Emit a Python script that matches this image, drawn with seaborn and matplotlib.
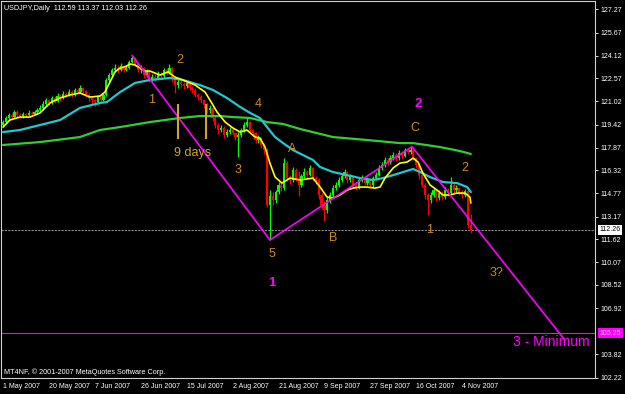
import matplotlib
matplotlib.use("Agg")
import matplotlib.pyplot as plt
import matplotlib.transforms as mtransforms
from matplotlib import font_manager
import numpy as np
import pandas as pd
import seaborn as sns

# ---------------- data ----------------
opens = [119.40, 119.60, 119.88, 120.08, 119.94, 120.28, 120.08, 120.01, 120.15, 120.08,
         120.22, 120.15, 120.28, 120.42, 120.56, 120.83, 121.10, 120.90, 121.24, 121.03,
         121.37, 121.24, 121.51, 121.44, 121.64, 121.44, 121.78, 121.64, 121.92, 121.71,
         121.44, 121.24, 121.10, 120.96, 121.30, 121.10, 121.44, 122.46, 122.80, 123.14,
         123.28, 123.14, 123.41, 123.14, 123.28, 123.69, 123.96, 123.55, 123.14, 123.28,
         122.80, 123.01, 122.46, 122.67, 122.60, 122.87, 122.73, 123.14, 122.94, 123.28,
         122.60, 122.12, 122.33, 122.19, 122.05, 122.26, 121.92, 121.78, 121.44, 121.30,
         121.10, 120.76, 120.42, 120.56, 119.88, 119.40, 119.06, 119.20, 118.72, 118.92,
         119.06, 118.86, 118.58, 118.72, 119.06, 119.40, 119.60, 119.06, 118.86, 118.38,
         118.52, 118.04, 117.70, 113.95, 114.60, 114.30, 114.84, 115.32, 115.10, 116.80,
         115.79, 115.66, 116.34, 115.79, 115.32, 115.93, 116.20, 116.00, 116.47, 115.79,
         115.66, 114.64, 113.96, 113.62, 114.30, 114.64, 115.11, 115.32, 115.66, 115.93,
         116.20, 115.66, 115.93, 115.32, 115.20, 115.66, 115.79, 115.45, 115.66, 115.32,
         115.79, 116.00, 116.47, 116.68, 117.02, 116.88, 117.15, 117.36, 117.15, 117.50,
         117.29, 117.70, 117.56, 117.70, 117.15, 116.68, 116.00, 115.32, 114.64, 114.30,
         114.64, 114.98, 114.43, 114.77, 114.50, 114.98, 114.77, 115.32, 114.98, 115.11,
         114.84, 114.64, 114.90, 112.59]
closes = [119.60, 119.88, 120.08, 119.94, 120.28, 120.08, 120.01, 120.15, 120.08, 120.22,
          120.15, 120.28, 120.42, 120.56, 120.83, 121.10, 120.90, 121.24, 121.03, 121.37,
          121.24, 121.51, 121.44, 121.64, 121.44, 121.78, 121.64, 121.92, 121.71, 121.44,
          121.24, 121.10, 120.96, 121.30, 121.10, 121.44, 122.46, 122.80, 123.14, 123.28,
          123.14, 123.41, 123.14, 123.28, 123.69, 123.96, 123.55, 123.14, 123.28, 122.80,
          123.01, 122.46, 122.67, 122.60, 122.87, 122.73, 123.14, 122.94, 123.28, 122.60,
          122.12, 122.33, 122.19, 122.05, 122.26, 121.92, 121.78, 121.44, 121.30, 121.10,
          120.76, 120.42, 120.56, 119.88, 119.40, 119.06, 119.20, 118.72, 118.92, 119.06,
          118.86, 118.58, 118.72, 119.06, 119.40, 119.60, 119.06, 118.86, 118.38, 118.52,
          118.04, 117.70, 113.95, 114.60, 114.30, 114.84, 115.32, 115.10, 116.80, 115.79,
          115.66, 116.34, 115.79, 115.32, 115.93, 116.20, 116.00, 116.47, 115.79, 115.66,
          114.64, 113.96, 113.62, 114.30, 114.64, 115.11, 115.32, 115.66, 115.93, 116.20,
          115.66, 115.93, 115.32, 115.20, 115.66, 115.79, 115.45, 115.66, 115.32, 115.79,
          116.00, 116.47, 116.68, 117.02, 116.88, 117.15, 117.36, 117.15, 117.50, 117.29,
          117.70, 117.56, 117.70, 117.15, 116.68, 116.00, 115.32, 114.64, 114.30, 114.64,
          114.98, 114.43, 114.77, 114.50, 114.98, 114.77, 115.32, 114.98, 115.11, 114.84,
          114.64, 114.90, 112.59, 112.26]
highs = [119.75, 120.00, 120.25, 120.20, 120.45, 120.40, 120.20, 120.30, 120.25, 120.40,
         120.35, 120.45, 120.55, 120.75, 121.00, 121.25, 121.20, 121.40, 121.35, 121.55,
         121.50, 121.70, 121.65, 121.85, 121.75, 121.95, 121.90, 122.10, 122.00, 121.80,
         121.55, 121.40, 121.20, 121.45, 121.40, 121.60, 122.60, 122.95, 123.30, 123.55,
         123.45, 123.60, 123.50, 123.50, 123.85, 124.13, 124.05, 123.65, 123.45, 123.35,
         123.20, 123.10, 122.85, 122.85, 123.05, 123.00, 123.30, 123.25, 123.55, 123.35,
         122.70, 122.50, 122.45, 122.35, 122.40, 122.35, 122.05, 121.90, 121.60, 121.45,
         121.20, 120.90, 120.75, 120.65, 120.00, 119.55, 119.40, 119.30, 119.10, 119.25,
         119.20, 118.95, 118.90, 119.20, 119.60, 119.85, 119.70, 119.15, 118.95, 118.70,
         118.60, 118.15, 117.85, 114.95, 114.85, 115.00, 115.50, 115.55, 117.15, 116.95,
         116.00, 116.55, 116.45, 116.30, 116.10, 116.45, 116.35, 116.65, 116.55, 115.95,
         115.80, 114.80, 114.20, 114.50, 114.85, 115.30, 115.55, 115.85, 116.15, 116.40,
         116.30, 116.10, 116.00, 115.45, 115.80, 116.00, 115.90, 115.85, 115.75, 115.95,
         116.20, 116.65, 116.90, 117.20, 117.15, 117.35, 117.55, 117.50, 117.70, 117.60,
         117.85, 117.85, 117.93, 117.80, 117.25, 116.80, 116.10, 115.45, 114.80, 114.85,
         115.15, 115.05, 114.95, 114.90, 115.15, 115.10, 115.86, 115.45, 115.30, 115.20,
         114.95, 115.05, 115.00, 113.37]
lows = [119.25, 119.50, 119.80, 119.80, 119.85, 119.95, 119.85, 119.90, 119.95, 120.00,
        120.00, 120.05, 120.15, 120.30, 120.45, 120.70, 120.75, 120.80, 120.90, 120.95,
        121.05, 121.15, 121.30, 121.35, 121.30, 121.35, 121.50, 121.55, 121.55, 121.30,
        121.05, 120.85, 120.70, 120.85, 120.95, 121.00, 121.35, 122.30, 122.70, 123.00,
        122.95, 123.05, 123.00, 123.05, 123.20, 123.60, 123.40, 123.00, 122.95, 122.60,
        122.65, 122.30, 122.35, 122.40, 122.50, 122.55, 122.60, 122.80, 122.85, 122.30,
        121.55, 121.95, 122.00, 121.85, 121.90, 121.75, 121.60, 121.30, 121.10, 120.90,
        120.55, 120.20, 120.25, 119.70, 119.20, 118.80, 118.90, 118.55, 118.60, 118.80,
        118.70, 118.40, 117.25, 118.60, 118.95, 119.25, 118.90, 118.65, 118.20, 118.20,
        117.85, 117.40, 113.80, 111.58, 113.95, 114.10, 114.70, 114.90, 115.00, 115.60,
        115.40, 115.55, 115.60, 114.60, 115.20, 115.80, 115.80, 115.90, 115.60, 115.40,
        114.40, 113.70, 112.85, 113.40, 114.10, 114.50, 114.95, 115.20, 115.50, 115.80,
        115.45, 115.50, 115.10, 114.95, 115.05, 115.55, 115.30, 115.30, 115.10, 115.20,
        115.65, 115.90, 116.35, 116.55, 116.70, 116.75, 117.00, 116.95, 117.05, 117.10,
        117.20, 117.40, 117.45, 117.00, 116.50, 115.75, 115.15, 114.40, 113.28, 114.10,
        114.50, 114.20, 114.30, 114.30, 114.40, 114.60, 114.70, 114.80, 114.85, 114.65,
        114.45, 114.50, 112.40, 112.03]

# moving averages, sampled along the bar axis
fast_bar = [0, 2.4, 5.9, 9.4, 12.9, 16.4, 19.9, 23.3, 26.8, 30.3, 33.8, 35.5, 37.3, 39.0, 40.8,
            42.5, 44.3, 46.0, 47.7, 49.5, 51.2, 54.7, 57.5, 59.9, 62.7, 66.9, 70.4, 72.1, 74.6, 77.4,
            80.1, 82.6, 85.0, 87.8, 89.5, 91.3, 93.0, 94.8, 97.2, 100.0, 103.5, 108.0, 110.5, 112.9,
            115.0, 117.4, 119.9, 122.0, 124.4, 126.8, 129.6, 131.4, 133.1, 135.9, 138.3, 140.8,
            142.9, 144.6, 146.3, 148.8, 151.2, 153.3, 155.7, 158.2, 161.0, 162.7, 163.0]
fast_val = [119.26, 119.74, 119.94, 119.94, 120.22, 120.90, 121.24, 121.44, 121.58, 121.30,
            121.37, 121.64, 122.33, 123.01, 123.28, 123.35, 123.55, 123.48, 123.28, 123.07,
            123.07, 122.80, 123.01, 122.66, 122.46, 122.12, 121.64, 121.10, 120.28, 119.60,
            119.20, 118.92, 119.06, 118.58, 118.52, 117.90, 116.81, 115.86, 115.45, 115.79,
            115.66, 115.79, 115.18, 114.50, 114.43, 114.64, 114.98, 115.11, 115.18, 115.18,
            115.11, 115.18, 115.79, 116.47, 116.81, 116.88, 117.15, 116.88, 116.13, 115.32,
            114.98, 114.64, 114.64, 114.77, 114.77, 114.50, 114.09]
mid_bar = [0, 5.9, 12.9, 19.9, 26.8, 33.8, 36.2, 40.8, 46.0, 51.2, 58.2, 62.7, 68.6, 73.2, 78.0,
           82.6, 86.1, 89.5, 92.0, 94.8, 97.6, 101.0, 105.2, 108.0, 110.5, 115.0, 119.9, 124.4,
           128.9, 132.4, 135.9, 139.4, 142.9, 145.3, 148.8, 153.3, 158.2, 161.7, 163.0]
mid_val = [118.92, 119.06, 119.40, 119.74, 120.56, 120.90, 120.96, 121.64, 122.26, 122.46,
           122.60, 122.46, 122.12, 121.78, 121.24, 120.63, 120.22, 119.88, 119.26, 118.58,
           118.17, 117.70, 117.29, 117.02, 116.54, 116.20, 115.99, 115.79, 115.66, 115.79,
           115.99, 116.20, 116.41, 116.20, 115.86, 115.52, 115.45, 115.18, 114.84]
slow_bar = [0, 12.9, 26.8, 33.8, 40.8, 51.2, 61.7, 68.6, 75.6, 80.1, 86.1, 92.0, 97.6, 103.5,
            115.0, 126.8, 138.3, 142.9, 152.3, 159.2, 163.0]
slow_val = [118.04, 118.24, 118.58, 119.06, 119.26, 119.60, 119.88, 120.01, 120.01, 119.94,
            119.88, 119.60, 119.47, 119.13, 118.58, 118.38, 118.17, 118.17, 117.90, 117.63, 117.43]

# Elliott-wave zigzag
zig_bar = [45, 93, 142.5, 195.8]
zig_price = [124.13, 111.58, 117.93, 104.77]
nine_days_bar = [61.0, 70.7]
nine_days_range = [118.47, 120.84]

xtick_bars = [0, 16, 32, 48, 64, 80, 96, 112, 128, 144, 160]
xtick_labels = ["1 May 2007", "20 May 2007", "7 Jun 2007", "26 Jun 2007", "15 Jul 2007",
                "2 Aug 2007", "21 Aug 2007", "9 Sep 2007", "27 Sep 2007", "16 Oct 2007",
                "4 Nov 2007"]
ytick_vals = [127.27, 125.67, 124.12, 122.57, 121.02, 119.42, 117.87, 116.32, 114.77,
              113.17, 111.62, 110.07, 108.52, 106.92, 103.82, 102.22]
last_price = 112.26
target_price = 105.25

# ---------------- figure ----------------
sns.set_style("dark")
plt.rcParams['font.family'] = ['Liberation Sans', 'DejaVu Sans']

# narrow font for the small MetaTrader-style axis texts
_names = {f.name for f in font_manager.fontManager.ttflist}
if 'Liberation Sans Narrow' in _names:
    small_family, small_size = ['Liberation Sans Narrow', 'DejaVu Sans'], 6.0
elif 'DejaVu Sans Condensed' in _names:
    small_family, small_size = ['DejaVu Sans Condensed', 'DejaVu Sans'], 5.35
else:
    small_family, small_size = ['Liberation Sans', 'DejaVu Sans'], 5.0

W, H = 625, 394
fig = plt.figure(figsize=(W / 100, H / 100), dpi=100, facecolor='black')
ax_left, ax_right, ax_top, ax_bot = 1, 595, 1, 377.6
ax = fig.add_axes([ax_left / W, (H - ax_bot) / H, (ax_right - ax_left) / W, (ax_bot - ax_top) / H],
                  facecolor='black')

bars = np.arange(len(closes))
o = np.array(opens); c = np.array(closes)
cols = ['#00ff00' if cc >= oo else '#ff0000' for oo, cc in zip(o, c)]
ax.vlines(bars, lows, highs, colors=cols, lw=0.9, zorder=2)
bottoms = np.minimum(o, c)
heights = np.maximum(np.abs(c - o), 0.04)
ax.bar(bars, heights, bottom=bottoms, width=0.75, color=cols, lw=0, zorder=2)

# horizontal levels
ax.axhline(last_price, color='#8a8a8a', lw=0.8, ls=(0, (2, 1)), zorder=1)
ax.axhline(target_price, color='#ff00ff', lw=0.8, zorder=1)

# moving averages
sns.lineplot(x=slow_bar, y=slow_val, ax=ax, color='#32cd32', lw=1.6, sort=False, zorder=3)
sns.lineplot(x=mid_bar, y=mid_val, ax=ax, color='#20c8d0', lw=1.6, sort=False, zorder=3)
sns.lineplot(x=fast_bar, y=fast_val, ax=ax, color='#ffff00', lw=1.2, sort=False, zorder=4)

# zigzag
sns.lineplot(x=zig_bar, y=zig_price, ax=ax, color='#ff00ff', lw=1.2, sort=False, zorder=5)
ax.vlines(nine_days_bar, nine_days_range[0], nine_days_range[1], colors='#d4a52a', lw=1.5, zorder=5)

orange = '#d08a1a'
labels_orange = [("1", 51.9, 121.10), ("2", 61.7, 123.82), ("4", 88.9, 120.83),
                 ("3", 81.9, 116.34), ("A", 100.7, 117.77), ("5", 93.7, 110.62),
                 ("B", 115.0, 111.71), ("C", 143.6, 119.19), ("2", 161.0, 116.47),
                 ("1", 148.8, 112.26), ("3?", 171.8, 109.33)]
for t, xb, yp in labels_orange:
    ax.text(xb, yp, t, color=orange, fontsize=9, ha='center', va='center', zorder=6)
ax.text(66.2, 117.49, "9 days", color='#d4a52a', fontsize=9, ha='center', va='center', zorder=6)
ax.text(144.6, 120.83, "2", color='#ff00ff', fontsize=9.5, fontweight='bold', ha='center', va='center')
ax.text(93.7, 108.65, "1", color='#ff00ff', fontsize=9.5, fontweight='bold', ha='center', va='center')
ax.text(204.3, 104.62, "3 - Minimum", color='#ff00ff', fontsize=10, ha='right', va='center')

# axes limits & ticks
ax.set_xlim((ax_left - 3) / 2.87, (ax_right - 3) / 2.87)
ax.set_ylim(102.22, 127.27 + (9.3 - ax_top) / 14.7)
ax.yaxis.tick_right()
ax.set_yticks(ytick_vals)
ax.set_yticklabels([f"{v:.2f}" for v in ytick_vals], family=small_family, fontsize=small_size)
ax.set_xticks(xtick_bars)
ax.set_xticklabels(xtick_labels, family=small_family, fontsize=small_size)
for lbl in ax.get_xticklabels():
    lbl.set_horizontalalignment('left')
ax.tick_params(axis='y', colors='white', labelcolor='white', length=2.5,
               width=0.6, pad=1.5, direction='out', right=True, left=False)
ax.tick_params(axis='x', colors='white', labelcolor='white', length=2.5,
               width=0.6, pad=1.5, direction='out')
ax.grid(False)
for s in ax.spines.values():
    s.set_color('#d0d0d0'); s.set_linewidth(0.8); s.set_visible(True)
ax.set_xlabel(''); ax.set_ylabel('')

# price boxes
tr = mtransforms.blended_transform_factory(ax.transAxes, ax.transData)
ax.text(1.008, last_price, f"{last_price:.2f}", transform=tr, family=small_family,
        fontsize=small_size, color='black', ha='left', va='center', clip_on=False,
        bbox=dict(boxstyle='square,pad=0.2', fc='white', ec='none'))
ax.text(1.008, target_price, f"{target_price:.2f}", transform=tr, family=small_family,
        fontsize=small_size, color='#ffb0ff', ha='left', va='center', clip_on=False,
        bbox=dict(boxstyle='square,pad=0.2', fc='#ff00ff', ec='none'))

fig.text(4 / W, 1 - 9 / H, "USDJPY,Daily  112.59 113.37 112.03 112.26", color='white',
         family=small_family, fontsize=small_size + 0.2, ha='left', va='center')
fig.text(4 / W, 1 - 372 / H, "MT4NF, © 2001-2007 MetaQuotes Software Corp.", color='white',
         family=small_family, fontsize=small_size + 0.2, ha='left', va='center')

fig.savefig("out.png", dpi=100, facecolor='black')
